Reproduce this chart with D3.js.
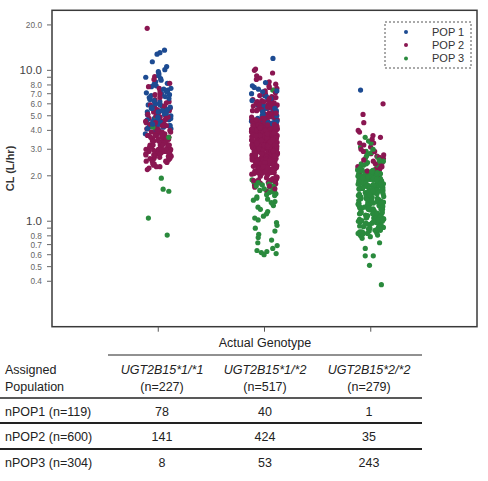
<!DOCTYPE html>
<html><head><meta charset="utf-8">
<script src="https://cdn.jsdelivr.net/npm/d3@7"></script>
<style>body{margin:0;background:#fff}svg{display:block}text{font-family:"Liberation Sans",Arial,sans-serif}</style>
</head><body><svg id="chart" width="488" height="481"></svg>
<script>
// ---------- data ----------
const categories = ["UGT2B15*1/*1", "UGT2B15*1/*2", "UGT2B15*2/*2"];
const popNames = ["POP 1", "POP 2", "POP 3"];
const popColors = ["#1d4b92", "#8a1651", "#2a8a3d"];

const g11_pop1 = [13.6,13.1,12.8,11.4,10.6,10.1,9.8,9.5,9.2,9.0,8.8,8.6,8.4,8.2,8.1,7.9,7.8,7.6,7.5,7.4,7.3,7.1,7.0,6.9,6.8,6.7,6.6,6.5,6.4,6.3,6.2,6.1,6.0,5.9,5.9,5.8,5.7,5.7,5.6,5.5,5.5,5.4,5.3,5.3,5.2,5.1,5.1,5.0,5.0,4.9,4.9,4.8,4.8,4.7,4.7,4.6,4.6,4.5,4.5,4.4,4.4,4.3,4.3,4.2,4.2,4.1,4.1,4.0,4.0,3.9,3.9,3.8,3.8,3.7,6.3,5.6,7.2,4.8];
const g11_pop2 = [19.0,9.1,8.7,8.2,7.6,7.3,7.0,6.7,6.6,6.4,6.2,6.1,5.9,5.8,5.8,5.6,5.5,5.4,5.4,5.3,5.2,5.1,5.1,5.0,4.9,4.9,4.8,4.7,4.7,4.6,4.6,4.5,4.5,4.4,4.4,4.3,4.3,4.2,4.2,4.2,4.1,4.1,4.0,4.0,4.0,3.9,3.9,3.9,3.8,3.8,3.8,3.7,3.7,3.7,3.7,3.6,3.6,3.6,3.6,3.5,3.5,3.5,3.5,3.4,3.4,3.4,3.4,3.3,3.3,3.3,3.3,3.3,3.2,3.2,3.2,3.2,3.2,3.1,3.1,3.1,3.1,3.1,3.0,3.0,3.0,3.0,3.0,2.95,2.95,2.9,2.9,2.9,2.9,2.85,2.85,2.8,2.8,2.8,2.8,2.75,2.75,2.7,2.7,2.7,2.65,2.65,2.6,2.6,2.55,2.5,2.5,2.45,2.4,2.35,2.3,2.25,2.2,5.7,4.8,4.3,3.9,3.6,3.4,3.2,3.0,2.8,6.9,7.8,5.3,4.6,4.1,3.7,3.5,3.3,3.1,2.9,2.7,2.6,2.5,2.4,2.3];
const g11_pop3 = [4.9,4.2,3.6,1.93,1.58,1.63,1.05,0.81];

const g12_pop1 = [12.0,8.3,7.9,7.7,7.5,7.3,7.2,7.0,6.8,6.7,6.5,6.4,6.3,6.2,6.0,5.9,5.8,5.7,5.6,5.5,5.4,5.4,5.3,5.2,5.1,5.0,5.0,4.9,4.8,4.8,4.7,4.6,4.6,4.5,4.5,4.4,4.3,5.6,6.1,4.9];
const g12_pop2 = [10.2,10.0,9.6,9.2,8.7,8.4,8.1,7.9,7.6,7.4,7.3,7.1,7.0,8.9,7.7,
6.9,6.2,5.4,4.8,6.6,5.9,5.1,4.6,6.4,5.6,6.8,6.0,5.3,4.7,6.5,5.8,5.0,4.9,6.3,5.5,
6.7,6.1,5.2,4.6,6.4,5.7,5.0,4.7,6.2,5.4,6.0,5.8,5.3,4.9,6.6,5.6,5.1,4.8,6.3,5.5,
5.9,5.7,5.2,4.6,6.1,5.4,4.9,4.7,5.8,5.3,6.5,5.9,5.0,4.8,5.6,5.2,4.7,4.6,5.5,5.1,
4.5,3.3,2.4,4.1,2.9,3.7,2.2,3.0,4.3,2.6,4.4,3.2,2.5,4.0,2.8,3.6,2.1,3.1,4.2,2.7,
4.48,3.35,2.45,3.95,2.85,3.65,2.15,3.05,4.25,2.55,4.35,3.25,2.35,4.05,2.95,3.75,2.25,3.15,4.15,2.65,
4.42,3.42,2.42,3.92,2.92,3.52,2.32,3.12,4.12,2.72,4.46,3.38,2.28,3.88,2.78,3.58,2.18,3.08,4.08,2.58,
4.32,3.28,2.48,3.98,2.88,3.68,2.08,3.18,4.22,2.62,4.38,3.22,2.38,4.02,2.82,3.72,2.12,3.02,4.18,2.52,
4.28,3.48,2.44,3.84,2.94,3.54,2.24,3.24,4.06,2.68,4.44,3.44,2.34,3.86,2.76,3.62,2.16,3.06,4.16,2.74,
4.4,3.3,2.5,3.9,2.8,3.6,2.3,3.1,4.2,2.6,4.24,3.36,2.46,3.94,2.86,3.56,2.26,3.16,4.04,2.66,
4.36,3.26,2.36,4.06,2.96,3.66,2.06,3.26,4.26,2.56,4.47,3.47,2.27,3.87,2.77,3.77,2.17,3.07,4.17,2.67,
4.33,3.33,2.43,3.93,2.83,3.63,2.23,3.13,4.13,2.53,4.27,3.27,2.37,4.07,2.87,3.57,2.13,3.03,4.23,2.63,
4.41,3.41,2.41,3.81,2.91,3.71,2.21,3.11,4.11,2.71,4.29,3.39,2.29,3.99,2.79,3.59,2.09,3.19,4.09,2.59,
4.34,3.34,2.39,4.01,2.89,3.69,2.19,3.09,4.19,2.69,4.45,3.45,2.33,3.83,2.73,3.53,2.11,3.21,4.03,2.51,
4.37,3.37,2.47,3.97,2.97,3.67,2.27,3.17,4.14,2.61,4.26,3.29,2.31,3.89,2.81,3.61,2.14,3.04,4.21,2.64,
4.43,3.46,2.49,3.96,2.93,3.74,2.22,3.14,4.24,2.57,4.31,3.31,2.26,3.91,2.84,3.51,2.07,3.23,4.07,2.54,
4.39,3.43,2.41,3.85,2.74,3.64,2.2,3.01,4.1,2.7,4.3,3.32,2.35,4.0,2.9,3.7,2.1,3.2,4.0,2.6,
4.21,3.4,2.3,3.8,2.75,3.55,2.25,3.05,4.05,2.55,4.49,3.49,2.4,3.9,2.85,3.65,2.15,3.15,4.15,2.65,
4.25,3.35,2.45,3.85,2.95,3.75,2.05,3.25,4.25,2.5,4.35,3.45,2.25,3.95,2.8,3.6,2.2,3.1,4.1,2.7,
4.15,3.3,2.35,3.8,2.9,3.5,2.3,3.0,4.3,2.6,4.4,3.2,2.5,4.0,2.7,3.7,2.1,3.1,4.2,2.8,
4.2,3.4,2.4,3.9,2.85,3.55,2.15,3.35,4.05,2.45,
2.02,1.96,1.91,1.87,1.99,1.83,1.77,1.94,1.71,1.86,1.64,1.97,1.79,1.92,1.68,1.88,1.58,1.81,1.74];
const g12_pop3 = [7.4,4.0,1.88,1.85,1.83,1.8,1.78,1.76,1.74,1.72,1.7,1.68,1.66,1.64,1.62,1.6,1.58,1.55,1.52,1.5,1.48,1.45,1.42,1.4,1.38,1.35,1.31,1.27,1.24,1.2,1.16,1.12,1.08,1.05,1.02,0.98,0.94,0.9,0.86,0.82,0.78,0.75,0.72,0.69,0.66,0.64,0.62,0.61,0.6,1.71,1.57,1.33,0.63];

const g22_pop1 = [7.4];
const g22_pop2 = [6.0,5.1,4.5,4.0,3.9,3.7,3.6,3.5,3.3,3.3,3.2,3.1,3.0,2.9,2.9,2.8,2.75,2.7,2.65,2.6,2.55,2.5,2.45,2.4,2.35,2.3,2.3,2.25,2.2,2.2,2.15,2.1,2.1,2.05,2.0];
const g22_pop3 = [3.6,3.4,3.3,3.1,3.0,2.9,2.85,2.8,2.7,2.65,2.6,2.55,2.5,2.5,2.45,2.4,2.4,2.35,2.3,2.25,
2.2,1.9,1.6,1.3,1.05,2.05,1.75,1.45,1.15,0.9,2.15,1.85,1.55,1.25,1.0,2.0,1.7,1.4,1.1,0.85,
2.1,1.8,1.5,1.2,0.95,1.95,1.65,1.35,1.08,0.82,2.12,1.82,1.52,1.22,0.97,1.97,1.67,1.37,1.12,0.88,
2.08,1.78,1.48,1.18,0.93,1.93,1.63,1.33,1.03,0.8,2.18,1.88,1.58,1.28,1.02,2.02,1.72,1.42,1.13,0.87,
2.03,1.73,1.43,1.23,0.98,1.92,1.62,1.32,1.06,0.84,2.14,1.84,1.54,1.24,0.99,1.99,1.69,1.39,1.09,0.91,
2.06,1.76,1.46,1.16,0.94,1.91,1.61,1.31,1.01,0.83,2.16,1.86,1.56,1.26,1.04,2.01,1.71,1.41,1.11,0.89,
2.04,1.74,1.44,1.14,0.96,1.94,1.64,1.34,1.07,0.86,2.11,1.81,1.51,1.21,1.0,1.96,1.66,1.36,1.12,0.92,
2.07,1.77,1.47,1.17,0.97,1.89,1.59,1.29,1.05,0.81,2.19,1.87,1.57,1.27,1.03,1.98,1.68,1.38,1.1,0.9,
2.09,1.79,1.49,1.19,0.95,1.9,1.6,1.3,1.02,0.84,2.13,1.83,1.53,1.23,0.99,2.0,1.7,1.4,1.14,0.88,
2.02,1.72,1.42,1.15,0.93,1.93,1.63,1.33,1.06,0.82,2.17,1.85,1.55,1.25,1.01,1.95,1.65,1.35,1.08,0.87,
2.05,1.75,1.45,1.2,0.96,1.92,1.62,1.32,1.04,0.85,2.1,1.8,1.5,1.3,0.98,1.97,1.67,1.37,1.13,0.91,
2.0,1.77,1.52,1.22,1.0,1.88,1.58,1.28,1.09,0.83,1.9,1.6,1.4,1.2,1.0,
0.79,0.77,0.72,0.66,0.59,0.59,0.51,0.38];

const yTickValues = [20,10,8,7,6,5,4,3,2,1,0.8,0.7,0.6,0.5,0.4];
const yMinorTicks = [9,0.9];
const yBigLabels = [10,1];

const tableRowHeader = ["Assigned", "Population"];
const tableColN = ["(n=227)", "(n=517)", "(n=279)"];
const tableRowLabels = ["nPOP1 (n=119)", "nPOP2 (n=600)", "nPOP3 (n=304)"];
const tableValues = [[78,40,1],[141,424,35],[8,53,243]];

const groups = [
  [g11_pop1, g11_pop2, g11_pop3],
  [g12_pop1, g12_pop2, g12_pop3],
  [g22_pop1, g22_pop2, g22_pop3]
];

// ---------- layout ----------
const svg = d3.select("#chart");
const L = 52, R = 477, T = 10.3, B = 326.7;
const x = d3.scalePoint().domain(categories).range([L, R]).padding(1);
const y = d3.scaleLog().domain([0.2, 25]).range([B, T]);

// points (horizontal jitter is a deterministic layout hash, not data)
const frac = t => t - Math.floor(t);
const hash = (a, b) => frac(Math.sin(a * 12.9898 + b * 78.233) * 43758.5453);
const pts = [];
let k = 0;
groups.forEach((gs, ci) => gs.forEach((vals, pi) => vals.forEach((v, i) => {
  pts.push({cat: categories[ci], pop: pi, v: v, i: i, k: k++});
})));
pts.forEach(p => {
  p.dx = (hash(p.i + 1, p.pop + 3 * categories.indexOf(p.cat) + 1) - 0.5) * 26;
  p.order = hash(p.k + 7, 0.5);
});
pts.sort((a, b) => a.order - b.order);

svg.append("g").selectAll("circle").data(pts).join("circle")
  .attr("cx", d => x(d.cat) + d.dx)
  .attr("cy", d => y(d.v))
  .attr("r", 2.6)
  .attr("fill", d => popColors[d.pop]);

// frame
svg.append("rect").attr("x", L).attr("y", T).attr("width", R - L).attr("height", B - T)
  .attr("fill", "none").attr("stroke", "#3a3a3a").attr("stroke-width", 1.5);

// y axis ticks
const yAxis = svg.append("g");
yAxis.selectAll("line.t").data(yTickValues.concat(yMinorTicks)).join("line")
  .attr("x1", L - 5).attr("x2", L).attr("y1", d => y(d)).attr("y2", d => y(d))
  .attr("stroke", "#666").attr("stroke-width", 1);
yAxis.selectAll("text").data(yTickValues).join("text")
  .attr("x", 42).attr("y", d => y(d)).attr("dy", "0.35em")
  .attr("text-anchor", "end")
  .attr("font-size", d => yBigLabels.includes(d) ? 11.5 : 8.3)
  .attr("fill", d => yBigLabels.includes(d) ? "#444" : "#666")
  .text(d => d3.format(".1f")(d));

svg.append("text").attr("transform", `translate(14,${(T + B) / 2}) rotate(-90)`)
  .attr("text-anchor", "middle").attr("font-size", 11).attr("font-weight", "bold")
  .attr("fill", "#333").text("CL (L/hr)");

// x ticks
svg.append("g").selectAll("line").data(categories).join("line")
  .attr("x1", d => x(d)).attr("x2", d => x(d)).attr("y1", B).attr("y2", B + 5)
  .attr("stroke", "#555");

// legend
const lg = svg.append("g");
lg.append("rect").attr("x", 385).attr("y", 22).attr("width", 86).attr("height", 46)
  .attr("fill", "#fff").attr("stroke", "#555").attr("stroke-dasharray", "2,2");
const legY = [32, 45, 58.5];
popNames.forEach((n, i) => {
  lg.append("circle").attr("cx", 406).attr("cy", legY[i]).attr("r", 2).attr("fill", popColors[i]);
  lg.append("text").attr("x", 432).attr("y", legY[i]).attr("dy", "0.36em")
    .attr("font-size", 11).attr("fill", "#333").text(n);
});

// table
const tb = svg.append("g").attr("fill", "#222");
const colX = [162, 265, 369];
tb.append("text").attr("x", 265).attr("y", 343).attr("dy", "0.35em").attr("text-anchor", "middle")
  .attr("font-size", 12.5).text("Actual Genotype");
tb.append("line").attr("x1", 108).attr("x2", 422).attr("y1", 355).attr("y2", 355).attr("stroke", "#222").attr("stroke-width", 1);
tb.append("text").attr("x", 5).attr("y", 370).attr("dy", "0.35em").attr("font-size", 12.5).text(tableRowHeader[0]);
tb.append("text").attr("x", 5).attr("y", 387).attr("dy", "0.35em").attr("font-size", 12.5).text(tableRowHeader[1]);
categories.forEach((c, i) => {
  tb.append("text").attr("x", colX[i]).attr("y", 370).attr("dy", "0.35em").attr("text-anchor", "middle")
    .attr("font-size", 12.5).attr("font-style", "italic").text(c);
  tb.append("text").attr("x", colX[i]).attr("y", 387).attr("dy", "0.35em").attr("text-anchor", "middle")
    .attr("font-size", 12.5).text(tableColN[i]);
});
const rowY = [412, 437, 463];
const lineY = [[398, 1.3], [423, 2], [449, 2]];
lineY.forEach(([ly, w]) => tb.append("line").attr("x1", 0).attr("x2", 422).attr("y1", ly).attr("y2", ly)
  .attr("stroke", "#222").attr("stroke-width", w));
tableRowLabels.forEach((lab, r) => {
  tb.append("text").attr("x", 5).attr("y", rowY[r]).attr("dy", "0.35em").attr("font-size", 12.5).text(lab);
  tableValues[r].forEach((v, c) => {
    tb.append("text").attr("x", colX[c]).attr("y", rowY[r]).attr("dy", "0.35em").attr("text-anchor", "middle")
      .attr("font-size", 12.5).text(v);
  });
});
</script></body></html>
